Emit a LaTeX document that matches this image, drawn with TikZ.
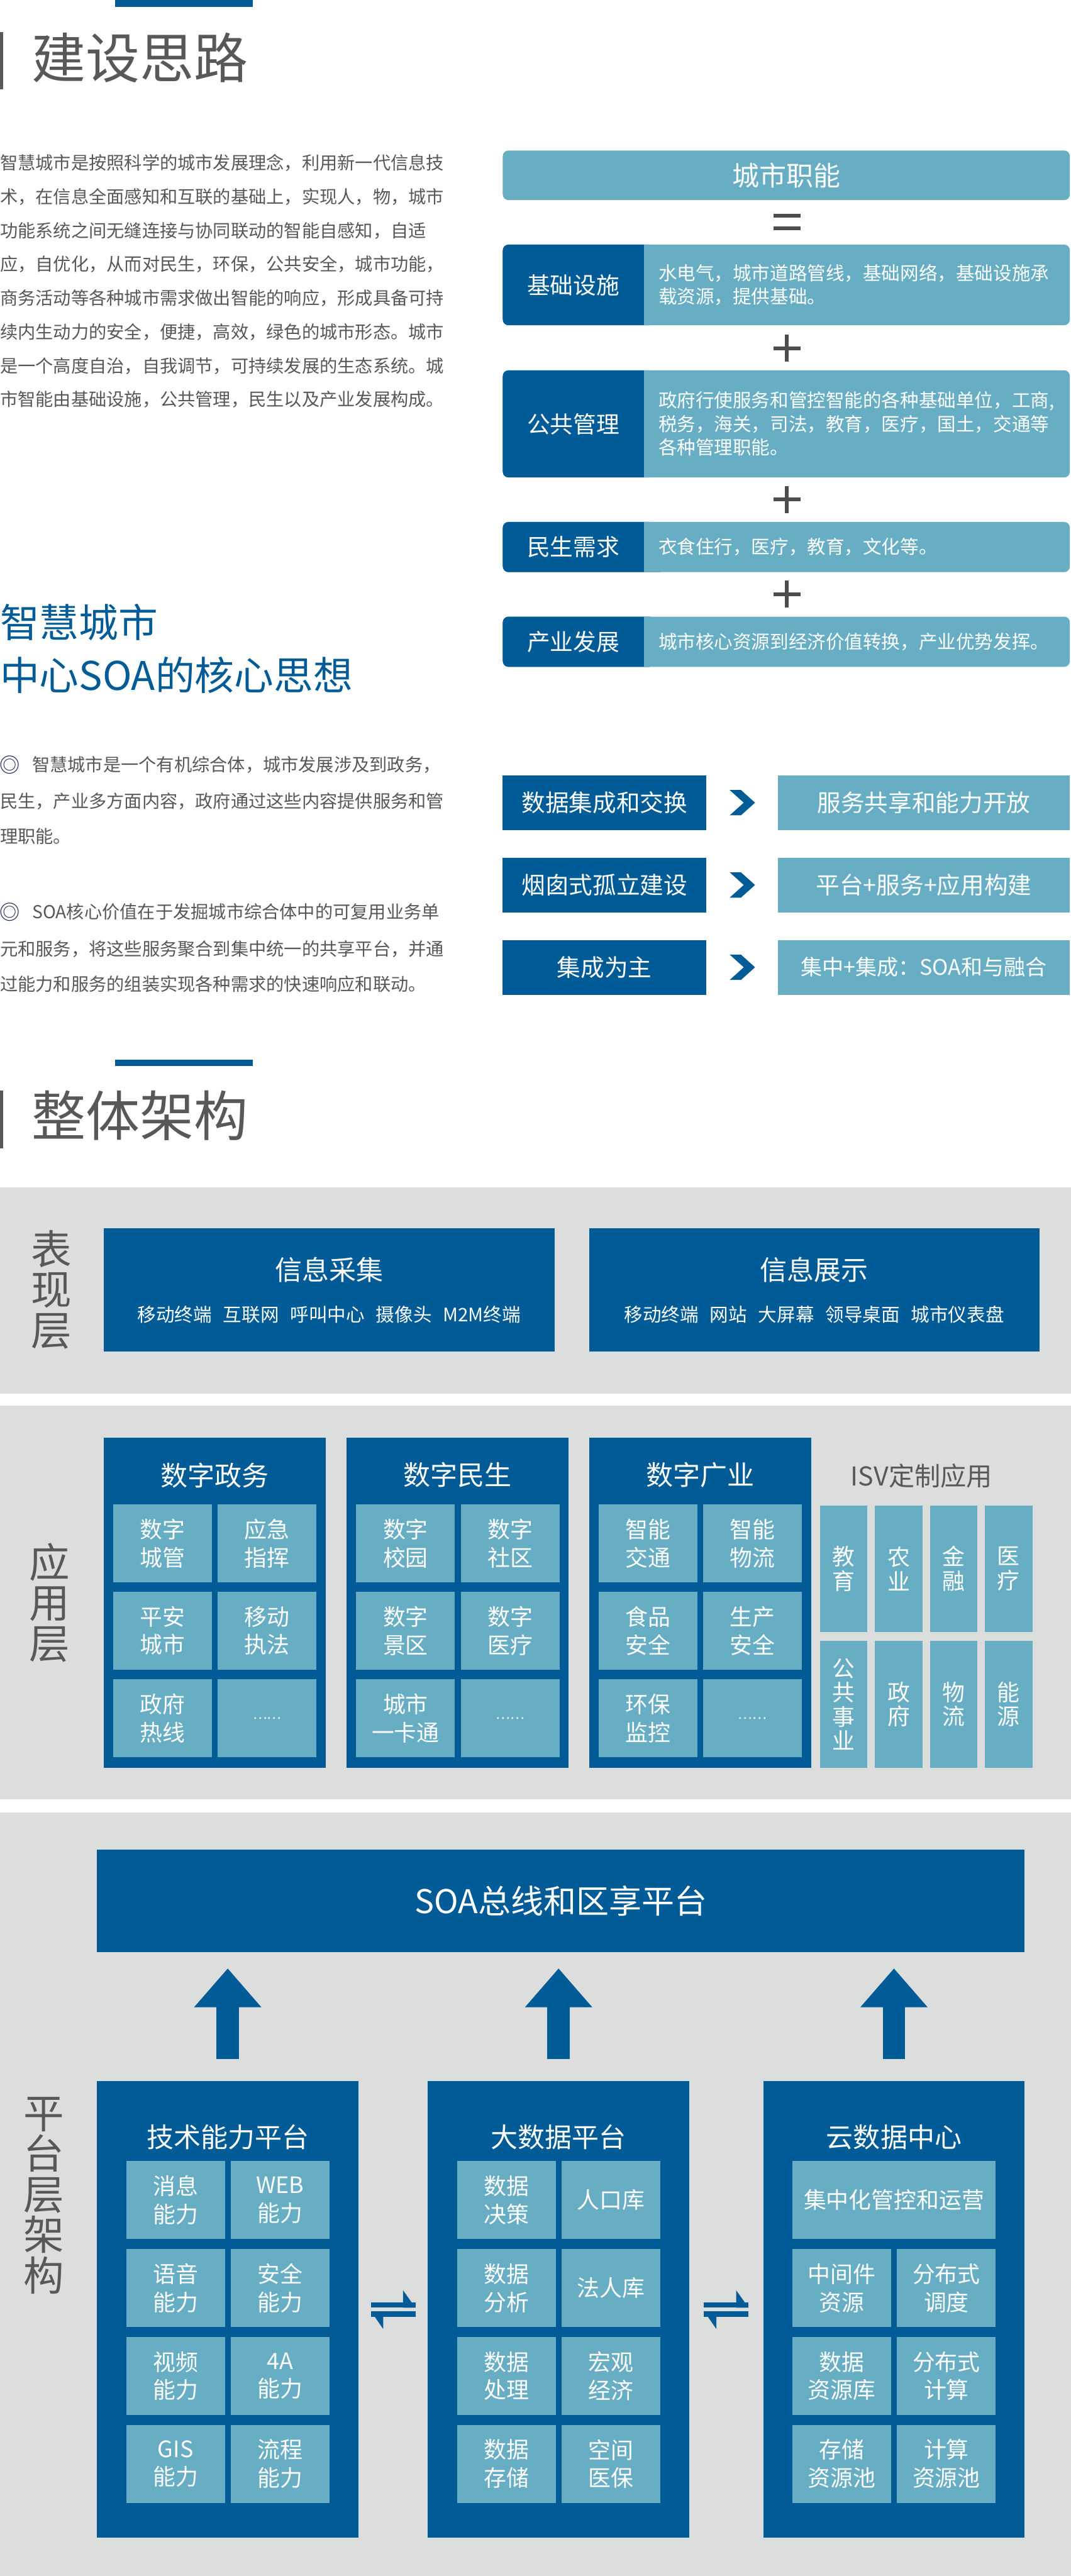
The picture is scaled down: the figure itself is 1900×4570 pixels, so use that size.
\documentclass[tikz,border=0pt]{standalone}
\usepackage{fontspec}
\setmainfont{Noto Sans CJK SC}
\usetikzlibrary{calc,arrows.meta}
\definecolor{dblue}{RGB}{0,91,150}
\definecolor{lblue}{RGB}{103,174,196}
\definecolor{pgray}{RGB}{220,221,221}
\definecolor{tgray}{RGB}{89,87,87}
\definecolor{sgray}{RGB}{77,77,77}
\definecolor{navy}{RGB}{25,38,90}
\newcommand{\fsz}[2]{\fontsize{#1}{#2}\selectfont}
\newcommand{\wgap}{\hspace{20pt}}
\tikzset{
  darkbox/.style={fill=dblue,text=white,inner sep=0pt,outer sep=0pt,align=center},
  lightbox/.style={fill=lblue,text=white,inner sep=0pt,outer sep=0pt,align=center},
  cell/.style={lightbox,minimum width=175pt,minimum height=138pt,font=\fsz{40}{50}},
  isvcell/.style={lightbox,minimum width=84pt,minimum height=225pt,font=\fsz{40}{43}},
  bodytext/.style={anchor=west,text=tgray,inner sep=0pt,font=\fsz{31.5}{40}},
  headline/.style={anchor=west,text=tgray,inner sep=0pt,font=\fsz{96}{96}},
  layerlab/.style={text=tgray,inner sep=0pt,align=center,font=\fsz{72}{72}},
  wtitle/.style={text=white,inner sep=0pt,font=\fsz{48}{48}},
  bullet/.style={text=navy,inner sep=0pt,font=\fsz{36}{36}},
  symbol/.style={sgray,line width=7pt},
  uparrow/.style={dblue,line width=40pt,-{Triangle[width=115pt,length=69pt]}},
}

\begin{document}
\begin{tikzpicture}[x=1pt,y=-1pt]
\useasboundingbox (0,0) rectangle (1900,4570);
\fill[white] (0,0) rectangle (1900,4570);

% 建设思路
\fill[dblue] (204,0) rectangle (448,12);
\fill[tgray] (0,57) rectangle (6,158);
\node[headline] (head1) at (56,102) {建设思路};
\foreach \ln [count=\i from 0] in {智慧城市是按照科学的城市发展理念，利用新一代信息技,
  术，在信息全面感知和互联的基础上，实现人，物，城市,
  功能系统之间无缝连接与协同联动的智能自感知，自适,
  应，自优化，从而对民生，环保，公共安全，城市功能，,
  商务活动等各种城市需求做出智能的响应，形成具备可持,
  续内生动力的安全，便捷，高效，绿色的城市形态。城市,
  是一个高度自治，自我调节，可持续发展的生态系统。城,
  市智能由基础设施，公共管理，民生以及产业发展构成。}
  \node[bodytext] (intro-\i) at (0,{289+60*\i}) {\ln};

% 城市职能
\node[lightbox,rounded corners=10pt,minimum width=1006pt,minimum height=88pt,font=\fsz{48}{48}] (func) at (1395,311) {城市职能};
\draw[symbol] (1372,383) -- (1420,383) (1372,405) -- (1420,405);
\foreach \y in {618,886,1054}
  \draw[symbol] (1372,\y) -- (1420,\y) (1396,\y-24) -- (1396,\y+24);
\foreach \ya/\yb/\lab/\desc [count=\i] in {434/577/基础设施/{水电气，城市道路管线，基础网络，基础设施承\\载资源，提供基础。},
  657/847/公共管理/{政府行使服务和管控智能的各种基础单位，工商,\\税务，海关，司法，教育，医疗，国土，交通等\\各种管理职能。},
  926/1015/民生需求/{衣食住行，医疗，教育，文化等。},
  1094/1183/产业发展/{城市核心资源到经济价值转换，产业优势发挥。}}
{
  \node[lightbox,rounded corners=10pt,minimum width=1006pt,minimum height={\yb-\ya}] (frow-\i) at (1395,{(\ya+\yb)/2}) {};
  \fill[dblue,rounded corners=10pt] (frow-\i.north west) rectangle ([xshift=270pt]frow-\i.south west);
  \fill[lblue] ([xshift=250pt]frow-\i.north west) rectangle ([xshift=280pt]frow-\i.south west);
  \node[text=white,inner sep=0pt,font=\fsz{41}{41}] (flab-\i) at ([xshift=125pt]frow-\i.west) {\lab};
  \node[text=white,anchor=west,align=left,inner sep=0pt,font=\fsz{33}{42}] (fdesc-\i) at ([xshift=276pt]frow-\i.west) {\desc};
}

% SOA 核心思想
\node[anchor=west,text=dblue,inner sep=0pt,align=left,font=\fsz{70}{94}] (soahead) at (0,1151) {智慧城市\\中心SOA的核心思想};
\node[bullet] (bul-1) at (17,1357) {◎};
\node[bodytext] (pt1-0) at (57,1357) {智慧城市是一个有机综合体，城市发展涉及到政务，};
\node[bodytext] (pt1-1) at (0,1421) {民生，产业多方面内容，政府通过这些内容提供服务和管};
\node[bodytext] (pt1-2) at (0,1484) {理职能。};
\node[bullet] (bul-2) at (17,1618) {◎};
\node[bodytext] (pt2-0) at (57,1618) {SOA核心价值在于发掘城市综合体中的可复用业务单};
\node[bodytext] (pt2-1) at (0,1684) {元和服务，将这些服务聚合到集中统一的共享平台，并通};
\node[bodytext] (pt2-2) at (0,1746) {过能力和服务的组装实现各种需求的快速响应和联动。};

\foreach \y/\a/\b/\fs [count=\i] in {1424/数据集成和交换/服务共享和能力开放/42,
  1570/烟囱式孤立建设/平台+服务+应用构建/42,
  1716/集成为主/集中+集成：SOA和与融合/38}
{
  \node[darkbox,minimum width=361pt,minimum height=97pt,font=\fsz{42}{42}] (old-\i) at (1072.5,\y) {\a};
  \node[lightbox,minimum width=518pt,minimum height=97pt,font=\fsz{\fs}{\fs}] (new-\i) at (1639,\y) {\b};
  \fill[dblue] ($(old-\i.east)!0.5!(new-\i.west)$) ++(-22,-22.5) -- ++(20,0) -- ++(25,22.5)
    -- ++(-25,22.5) -- ++(-20,0) -- ++(25,-22.5) -- cycle;
}

% 整体架构
\fill[dblue] (204,1880) rectangle (448,1891);
\fill[tgray] (0,1935) rectangle (6,2037);
\node[headline] (head2) at (56,1979) {整体架构};

\fill[pgray] (0,2106) rectangle (1900,2472);
\fill[pgray] (0,2494) rectangle (1900,3192);
\fill[pgray] (0,3215) rectangle (1900,4570);

% 表现层
\node[layerlab] (lay-show) at (91,2288) {表\\现\\层};
\node[darkbox,minimum width=800pt,minimum height=219pt] (collect) at (584,2288.5) {};
\node[darkbox,minimum width=799pt,minimum height=219pt] (display) at (1444.5,2288.5) {};
\node[wtitle] (collect-t) at ($(collect.north)+(0,74)$) {信息采集};
\node[wtitle] (display-t) at ($(display.north)+(0,74)$) {信息展示};
\node[text=white,inner sep=0pt,font=\fsz{33}{33}] (collect-s) at ($(collect.north)+(0,153)$) {移动终端\wgap 互联网\wgap 呼叫中心\wgap 摄像头\wgap M2M终端};
\node[text=white,inner sep=0pt,font=\fsz{33}{33}] (display-s) at ($(display.north)+(0,153)$) {移动终端\wgap 网站\wgap 大屏幕\wgap 领导桌面\wgap 城市仪表盘};

% 应用层
\node[layerlab] (lay-app) at (88,2843) {应\\用\\层};
\foreach \x/\name [count=\col] in {184/数字政务,615/数字民生,1045/数字广业} {
  \node[darkbox,minimum width=394pt,minimum height=586pt] (dom-\col) at ({\x+197},2843) {};
  \node[wtitle] (dom-\col-t) at ($(dom-\col.north)+(0,67)$) {\name};
}
\foreach \col/\row/\side/\txt in {1/1/1/{数字\\城管},1/1/2/{应急\\指挥},1/2/1/{平安\\城市},
  1/2/2/{移动\\执法},1/3/1/{政府\\热线},1/3/2/{\fsz{24}{24}……},
  2/1/1/{数字\\校园},2/1/2/{数字\\社区},2/2/1/{数字\\景区},
  2/2/2/{数字\\医疗},2/3/1/{城市\\一卡通},2/3/2/{\fsz{24}{24}……},
  3/1/1/{智能\\交通},3/1/2/{智能\\物流},3/2/1/{食品\\安全},
  3/2/2/{生产\\安全},3/3/1/{环保\\监控},3/3/2/{\fsz{24}{24}……}}
  \node[cell] (app-\col-\row-\side) at ($(dom-\col.north west)+({-81+185.5*\side},{33+155*\row})$) {\txt};

\node[text=tgray,inner sep=0pt,font=\fsz{46}{46}] (isv) at (1635,2618) {ISV定制应用};
\foreach \txt [count=\k from 0] in {{教\\育},{农\\业},{金\\融},{医\\疗}}
  \node[isvcell] (isv-a-\k) at ({1497+97.5*\k},2783) {\txt};
\foreach \txt [count=\k from 0] in {{公\\共\\事\\业},{政\\府},{物\\流},{能\\源}}
  \node[isvcell] (isv-b-\k) at ({1497+97.5*\k},3023.5) {\txt};

% 平台层架构
\node[layerlab] (lay-plat) at (78,3895) {平\\台\\层\\架\\构};
\node[darkbox,minimum width=1646pt,minimum height=182pt,font=\fsz{58}{58}] (soabus) at (995,3372) {SOA总线和区享平台};
\foreach \x/\name [count=\col] in {172/技术能力平台,759/大数据平台,1354/云数据中心} {
  \node[darkbox,minimum width=464pt,minimum height=810pt] (plat-\col) at ({\x+232},4097) {};
  \node[wtitle] (plat-\col-t) at ($(plat-\col.north)+(0,99)$) {\name};
  \draw[uparrow,shorten <=39pt,shorten >=29pt] (plat-\col.north) -- (plat-\col.north |- soabus.south);
}
\foreach \col/\row/\side/\txt in {1/1/1/{消息\\能力},1/1/2/{WEB\\能力},1/2/1/{语音\\能力},1/2/2/{安全\\能力},
  1/3/1/{视频\\能力},1/3/2/{4A\\能力},1/4/1/{GIS\\能力},1/4/2/{流程\\能力},
  2/1/1/{数据\\决策},2/1/2/{人口库},2/2/1/{数据\\分析},2/2/2/{法人库},
  2/3/1/{数据\\处理},2/3/2/{宏观\\经济},2/4/1/{数据\\存储},2/4/2/{空间\\医保},
  3/2/1/{中间件\\资源},3/2/2/{分布式\\调度},3/3/1/{数据\\资源库},3/3/2/{分布式\\计算},
  3/4/1/{存储\\资源池},3/4/2/{计算\\资源池}}
  \node[cell] (pc-\col-\row-\side) at ($(plat-\col.north west)+({-46+185.5*\side},{55+156*\row})$) {\txt};
\node[cell,minimum width=360pt] (pc-3-1) at ($(plat-3.north west)+(232,211)$) {集中化管控和运营};

% 双向箭头
\foreach \a/\b in {1/2,2/3} {
  \coordinate (sw-\a) at ($(plat-\a.east)!0.5!(plat-\b.west)$);
  \fill[dblue] (sw-\a) ++(-39.5,-12) rectangle ++(79,9);
  \fill[dblue] (sw-\a) ++(17.5,-34) -- ++(22,31) -- ++(-22,0) -- cycle;
  \fill[dblue] (sw-\a) ++(-39.5,3) rectangle ++(79,10);
  \fill[dblue] (sw-\a) ++(-39.5,3) -- ++(22,32) -- ++(0,-22) -- cycle;
}
\end{tikzpicture}
\end{document}
